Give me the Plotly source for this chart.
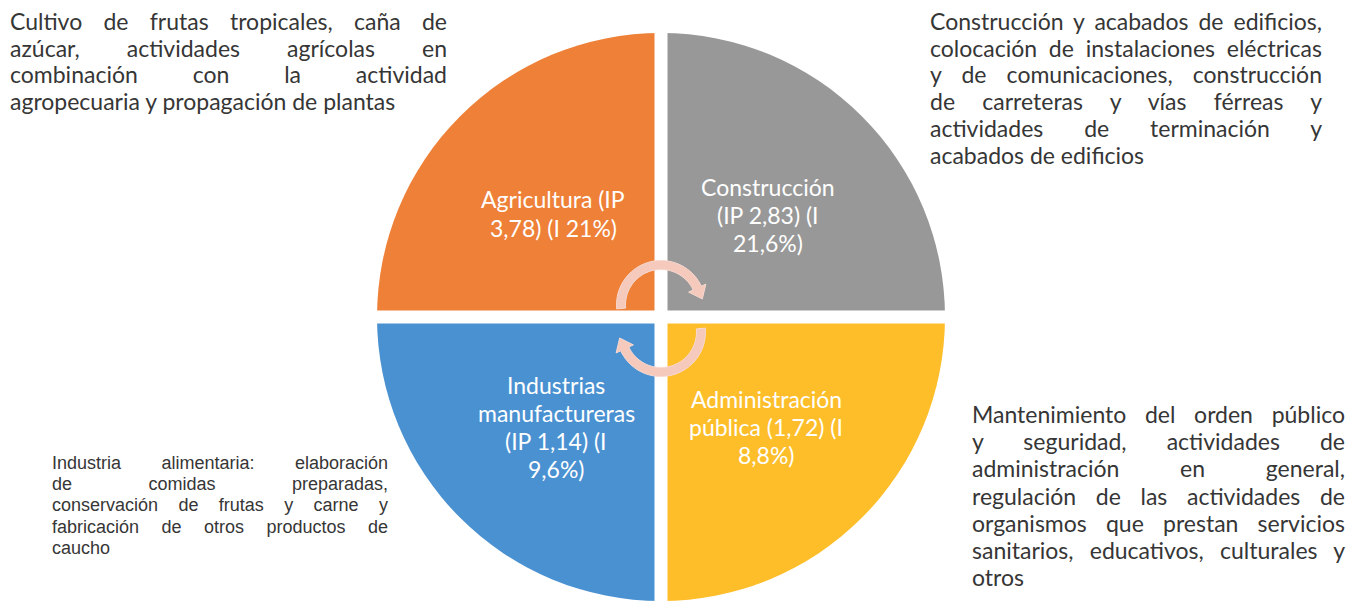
import json
import numpy as np
import plotly.graph_objects as go

# ---------------- data ----------------
sectors = ["Construcción", "Administración pública", "Industrias manufactureras", "Agricultura"]
slice_values = [1, 1, 1, 1]
slice_colors = ["#989898", "#FDBE2A", "#4A91D1", "#EE8038"]

label_cons = ["Construcción", "(IP 2,83) (I", "21,6%)"]
label_adm = ["Administración", "pública (1,72) (I", "8,8%)"]
label_ind = ["Industrias", "manufactureras", "(IP 1,14) (I", "9,6%)"]
label_agri = ["Agricultura (IP", "3,78) (I 21%)"]

desc_agri = ["Cultivo de frutas tropicales, caña de",
             "azúcar, actividades agrícolas en",
             "combinación con la actividad",
             "agropecuaria y propagación de plantas"]
desc_cons = ["Construcción y acabados de edificios,",
             "colocación de instalaciones eléctricas",
             "y de comunicaciones, construcción",
             "de carreteras y vías férreas y",
             "actividades de terminación y",
             "acabados de edificios"]
desc_adm = ["Mantenimiento del orden público",
            "y seguridad, actividades de",
            "administración en general,",
            "regulación de las actividades de",
            "organismos que prestan servicios",
            "sanitarios, educativos, culturales y",
            "otros"]
desc_ind = ["Industria alimentaria: elaboración",
            "de comidas preparadas,",
            "conservación de frutas y carne y",
            "fabricación de otros productos de",
            "caucho"]

# ---------------- layout constants ----------------
W, H = 1355, 601
cx, cy, r = 661, 317, 284
GAP = 13
TXT = "#363636"
FONT_MAIN = "Lato"
FONT_ARIAL = "Liberation Sans"

fig = go.Figure()
fig.add_trace(go.Scatter(x=[0, W], y=[0, H], mode="markers",
                         marker=dict(opacity=0), hoverinfo="skip", showlegend=False))
fig.add_trace(go.Pie(values=slice_values, labels=sectors, sort=False,
                     direction="clockwise", rotation=0,
                     marker=dict(colors=slice_colors, line=dict(width=0)),
                     textinfo="none", hoverinfo="skip", showlegend=False,
                     domain=dict(x=[(cx - r) / W, (cx + r) / W], y=[0, 2 * r / H])))

shapes = []
# white cross separating quadrants
shapes.append(dict(type="rect", xref="x", yref="y", x0=cx - GAP / 2, x1=cx + GAP / 2,
                   y0=cy - r - 5, y1=H + 5, fillcolor="white", line=dict(width=0), layer="above"))
shapes.append(dict(type="rect", xref="x", yref="y", x0=cx - r - 5, x1=cx + r + 5,
                   y0=cy - GAP / 2, y1=cy + GAP / 2, fillcolor="white", line=dict(width=0), layer="above"))


def arc_arrow(acx, acy, ar, a0, a1, hw=4.5, head_hw=9.5, head_len=12):
    ang = np.radians(np.linspace(a0, a1, 40))
    outer = [(acx + (ar + hw) * np.cos(a), acy + (ar + hw) * np.sin(a)) for a in ang]
    inner = [(acx + (ar - hw) * np.cos(a), acy + (ar - hw) * np.sin(a)) for a in ang][::-1]
    ae = ang[-1]
    d = np.array([-np.sin(ae), np.cos(ae)])
    end = np.array([acx + ar * np.cos(ae), acy + ar * np.sin(ae)])
    radial = np.array([np.cos(ae), np.sin(ae)])
    h1 = end + radial * head_hw
    h2 = end - radial * head_hw
    tip = end + d * head_len
    pts = outer + [tuple(h1), tuple(tip), tuple(h2)] + inner
    path = "M " + " L ".join(f"{x:.2f},{y:.2f}" for x, y in pts) + " Z"
    return dict(type="path", xref="x", yref="y", path=path, fillcolor="#F5C9BC",
                line=dict(color="#F8D9D0", width=1), layer="above")


shapes.append(arc_arrow(cx, cy - 12, 40, 175, 335))
shapes.append(arc_arrow(cx, cy + 15, 40, -5, 155))

annotations = []
justify = {}


def add_lines(lines, x, y0, dy, size, color, font, anchor="left", right=None):
    for i, line in enumerate(lines):
        idx = len(annotations)
        annotations.append(dict(x=x, y=y0 + i * dy, xref="x", yref="y", text=line,
                                showarrow=False, xanchor=anchor, yanchor="middle",
                                align="left" if anchor == "left" else "center",
                                borderpad=0, borderwidth=0,
                                font=dict(family=font, size=size, color=color)))
        if right is not None and i < len(lines) - 1:
            justify[str(idx)] = right - x


# quadrant labels
add_lines(label_agri, 553, 199, 28.5, 23, "white", FONT_MAIN, anchor="center")
add_lines(label_cons, 768, 187, 28, 23, "white", FONT_MAIN, anchor="center")
add_lines(label_ind, 556, 385, 28, 23, "white", FONT_MAIN, anchor="center")
add_lines(label_adm, 766, 399, 28, 23, "white", FONT_MAIN, anchor="center")

# descriptions
add_lines(desc_agri, 10, 21, 26.7, 23, TXT, FONT_MAIN, right=447)
add_lines(desc_cons, 930, 21, 26.7, 23, TXT, FONT_MAIN, right=1322)
add_lines(desc_adm, 972, 414, 27.2, 23, TXT, FONT_MAIN, right=1345)
add_lines(desc_ind, 52, 463, 21.2, 18, TXT, FONT_ARIAL, right=388)

fig.update_layout(
    width=W, height=H,
    margin=dict(l=0, r=0, t=0, b=0),
    paper_bgcolor="white", plot_bgcolor="white",
    xaxis=dict(range=[0, W], visible=False, fixedrange=True),
    yaxis=dict(range=[H, 0], visible=False, fixedrange=True),
    shapes=shapes, annotations=annotations,
    showlegend=False,
)

js = """
document.body.style.margin = '0';
document.body.style.overflow = 'hidden';
var gd = document.getElementById('{plot_id}');
var just = JUST;
function doJustify(){
  gd.querySelectorAll('g.annotation').forEach(function(g){
    var idx = g.getAttribute('data-index');
    if (!(idx in just)) return;
    var t = g.querySelector('text.annotation-text');
    if (!t) return;
    t.style.wordSpacing = '0px';
    var n = (t.textContent.match(/ /g) || []).length;
    if (!n) return;
    var w = t.getComputedTextLength();
    t.style.wordSpacing = ((just[idx] - w) / n) + 'px';
  });
}
doJustify();
""".replace("JUST", json.dumps(justify))

fig.write_html("out.html", post_script=js, config=dict(displayModeBar=False, staticPlot=True))
